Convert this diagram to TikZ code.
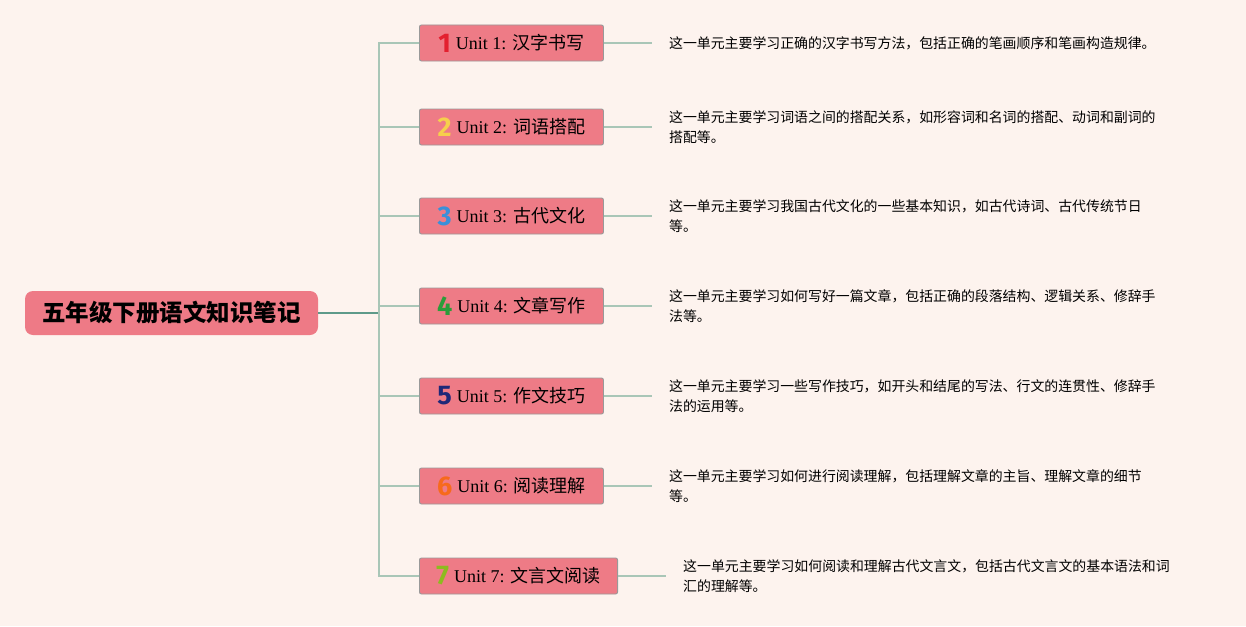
\documentclass[tikz,border=0pt]{standalone}
\usepackage{fontspec}
\setmainfont{Liberation Serif}
\newfontfamily\cjk{Noto Sans CJK SC}
\newfontfamily\numfont{Fira Sans}
\usetikzlibrary{positioning}

\definecolor{bgpaper}{HTML}{FDF3EE}
\definecolor{rootpink}{HTML}{EE7A86}
\definecolor{unitpink}{HTML}{EE7B86}
\definecolor{spinegreen}{HTML}{5E9A8A}
\definecolor{branchgreen}{HTML}{A9C6B7}
\definecolor{numA}{HTML}{E3202F}
\definecolor{numB}{HTML}{F6CF4C}
\definecolor{numC}{HTML}{3A90D9}
\definecolor{numD}{HTML}{2C9D3A}
\definecolor{numE}{HTML}{1F2878}
\definecolor{numF}{HTML}{F76A1C}
\definecolor{numG}{HTML}{8DBB1F}

\tikzset{
    rootbox/.style={fill=rootpink, rounded corners=8pt, minimum width=293pt,
        minimum height=44pt, font=\cjk\bfseries\fontsize{23.5}{26}\selectfont},
    unitbox/.style={fill=unitpink, draw=black!40, line width=0.9pt,
        rounded corners=2pt, minimum height=36pt, minimum width=184pt,
        inner xsep=17pt, font=\fontsize{18}{20}\selectfont},
    notetext/.style={align=left, inner sep=0pt,
        font=\cjk\fontsize{13.9}{20}\selectfont},
    branch/.style={draw=branchgreen, line width=1.3pt},
}
\newcommand{\unitnum}[2]{\raisebox{-2.5pt}{\numfont\bfseries\fontsize{27}{27}\selectfont\color{#1}#2}\hspace{5pt}}

\begin{document}
\begin{tikzpicture}[x=1pt, y=-1pt]
    \fill[bgpaper] (0,0) rectangle (1246,626);
    \useasboundingbox (0,0) rectangle (1246,626);

    \node[rootbox] (root) at (171.5,313) {五年级下册语文知识笔记};
    \coordinate (hub) at (379,313);
    \draw[draw=spinegreen, line width=1.3pt] (root.east) -- (hub);

    \foreach \i/\y/\col/\title/\note in {
        1/43/numA/汉字书写/{这一单元主要学习正确的汉字书写方法，包括正确的笔画顺序和笔画构造规律。},
        2/127/numB/词语搭配/{这一单元主要学习词语之间的搭配关系，如形容词和名词的搭配、动词和副词的\\搭配等。},
        3/216/numC/古代文化/{这一单元主要学习我国古代文化的一些基本知识，如古代诗词、古代传统节日\\等。},
        4/306/numD/文章写作/{这一单元主要学习如何写好一篇文章，包括正确的段落结构、逻辑关系、修辞手\\法等。},
        5/396/numE/作文技巧/{这一单元主要学习一些写作技巧，如开头和结尾的写法、行文的连贯性、修辞手\\法的运用等。},
        6/486/numF/阅读理解/{这一单元主要学习如何进行阅读理解，包括理解文章的主旨、理解文章的细节\\等。},
        7/576/numG/文言文阅读/{这一单元主要学习如何阅读和理解古代文言文，包括古代文言文的基本语法和词\\汇的理解等。}}
    {
        \node[unitbox, anchor=west] (u\i) at (419,\y) {\unitnum{\col}{\i}Unit \i: {\cjk\title}};
        \node[notetext, right=65pt of u\i] (n\i) {\note};
        \draw[branch] (hub) |- (u\i.west);
        \draw[branch] (u\i.east) -- ([xshift=-17pt]n\i.west);
    }
\end{tikzpicture}
\end{document}
